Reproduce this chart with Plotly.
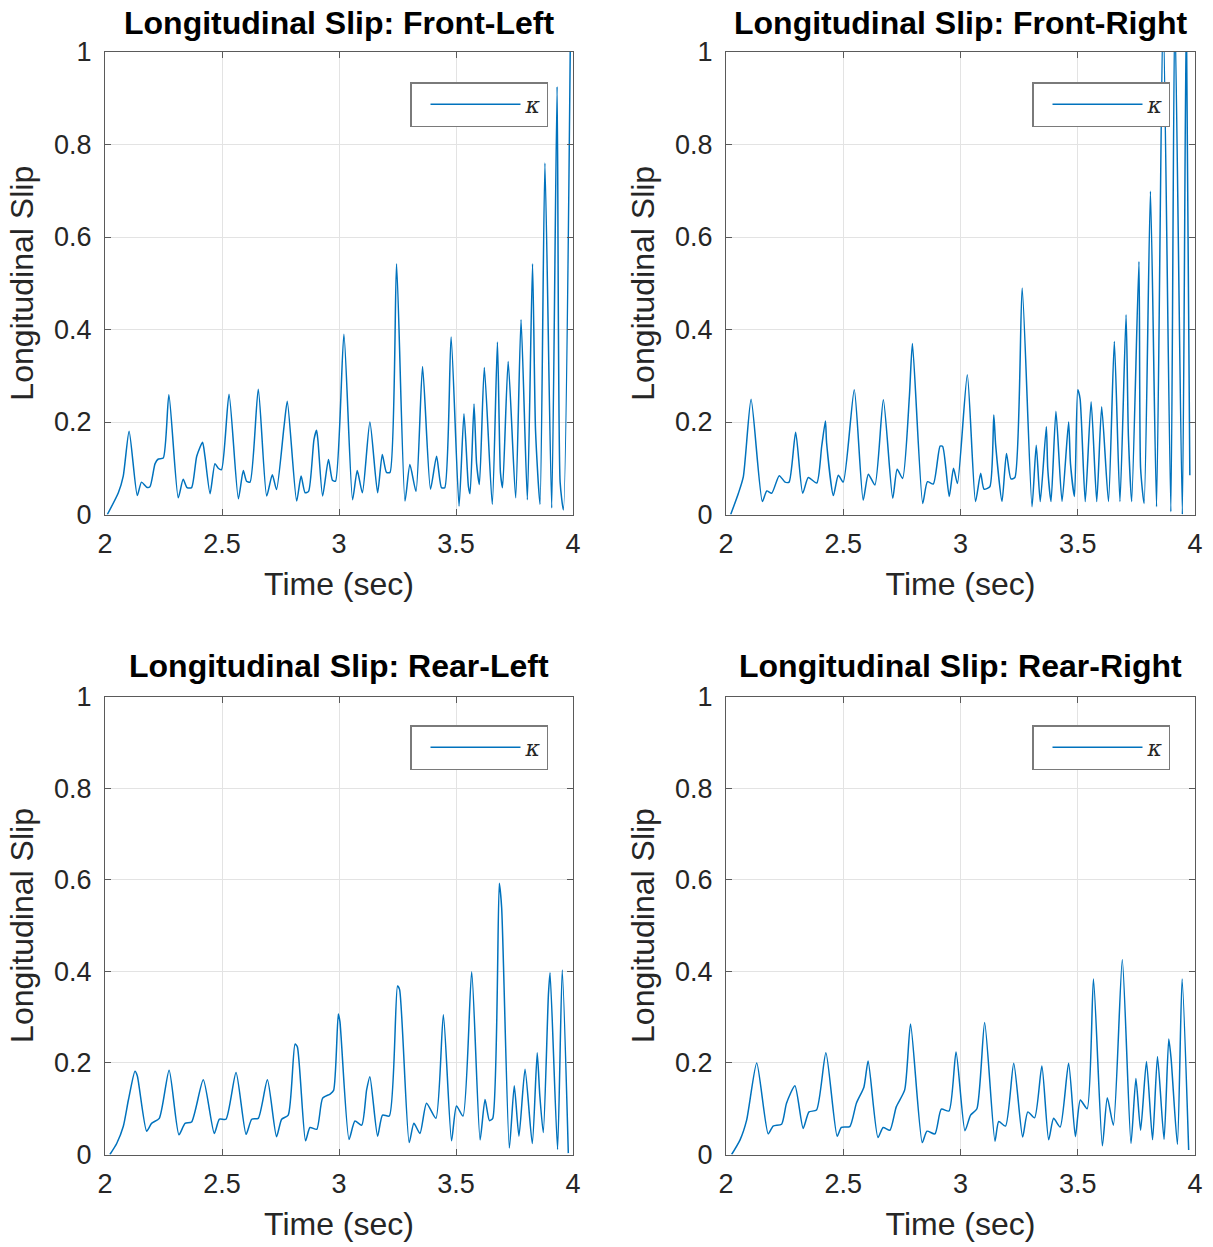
import plotly.graph_objects as go

# ---------------- data ----------------
t_fl = [2.01, 2.057, 2.078, 2.103, 2.138, 2.156, 2.178, 2.192, 2.214, 2.228,
        2.249, 2.273, 2.313, 2.334, 2.351, 2.37, 2.392, 2.417, 2.427, 2.449,
        2.47, 2.484, 2.498, 2.53, 2.57, 2.591, 2.605, 2.62, 2.655, 2.691,
        2.715, 2.733, 2.765, 2.779, 2.819, 2.838, 2.855, 2.87, 2.893, 2.904,
        2.91, 2.93, 2.955, 2.972, 2.985, 3.021, 3.058, 3.078, 3.1, 3.132,
        3.165, 3.185, 3.203, 3.218, 3.246, 3.282, 3.303, 3.329, 3.357, 3.391,
        3.417, 3.438, 3.452, 3.479, 3.513, 3.534, 3.553, 3.56, 3.577, 3.588,
        3.6, 3.621, 3.655, 3.677, 3.69, 3.699, 3.723, 3.755, 3.778, 3.805,
        3.827, 3.84, 3.859, 3.88, 3.909, 3.932, 3.945, 3.959, 3.99]
k_fl = [0.0, 0.047, 0.083, 0.18, 0.041, 0.07, 0.059, 0.06, 0.11, 0.12,
        0.122, 0.259, 0.036, 0.076, 0.058, 0.058, 0.126, 0.156, 0.126, 0.045,
        0.11, 0.1, 0.097, 0.26, 0.034, 0.095, 0.072, 0.07, 0.271, 0.04,
        0.086, 0.054, 0.19, 0.245, 0.029, 0.083, 0.047, 0.05, 0.162, 0.182,
        0.16, 0.04, 0.119, 0.074, 0.072, 0.39, 0.032, 0.095, 0.047, 0.2,
        0.047, 0.13, 0.091, 0.091, 0.542, 0.029, 0.108, 0.05, 0.32, 0.055,
        0.126, 0.058, 0.058, 0.384, 0.018, 0.218, 0.061, 0.045, 0.239, 0.11,
        0.065, 0.318, 0.022, 0.373, 0.09, 0.058, 0.331, 0.036, 0.421, 0.032,
        0.542, 0.18, 0.022, 0.76, 0.014, 0.925, 0.07, 0.01, 1.1]

t_fr = [2.02, 2.053, 2.074, 2.107, 2.155, 2.174, 2.195, 2.227, 2.252, 2.269,
        2.297, 2.327, 2.351, 2.387, 2.408, 2.424, 2.429, 2.458, 2.479, 2.5,
        2.547, 2.585, 2.607, 2.635, 2.671, 2.711, 2.73, 2.753, 2.782, 2.795,
        2.839, 2.859, 2.884, 2.913, 2.924, 2.952, 2.97, 2.987, 3.029, 3.064,
        3.086, 3.1, 3.125, 3.142, 3.15, 3.177, 3.196, 3.215, 3.232, 3.263,
        3.305, 3.323, 3.34, 3.366, 3.372, 3.386, 3.407, 3.433, 3.461, 3.469,
        3.486, 3.5, 3.51, 3.532, 3.557, 3.581, 3.602, 3.631, 3.656, 3.68,
        3.706, 3.716, 3.73, 3.761, 3.768, 3.783, 3.81, 3.836, 3.864, 3.897,
        3.914, 3.946, 3.963, 3.978]
k_fr = [0.0, 0.046, 0.082, 0.249, 0.028, 0.051, 0.046, 0.084, 0.07, 0.07,
        0.178, 0.046, 0.08, 0.068, 0.147, 0.202, 0.155, 0.041, 0.085, 0.07,
        0.27, 0.031, 0.087, 0.064, 0.248, 0.035, 0.098, 0.078, 0.255, 0.37,
        0.024, 0.071, 0.066, 0.148, 0.147, 0.039, 0.1, 0.067, 0.302, 0.028,
        0.089, 0.055, 0.06, 0.215, 0.15, 0.028, 0.132, 0.077, 0.08, 0.49,
        0.017, 0.15, 0.028, 0.19, 0.1, 0.028, 0.223, 0.028, 0.2, 0.11,
        0.039, 0.27, 0.25, 0.028, 0.244, 0.028, 0.233, 0.028, 0.374, 0.028,
        0.432, 0.17, 0.028, 0.547, 0.1, 0.024, 0.699, 0.017, 1.1, 0.006,
        1.1, 0.0, 1.1, 0.085]

t_rl = [2.021, 2.05, 2.078, 2.1, 2.128, 2.138, 2.178, 2.199, 2.232, 2.274,
        2.316, 2.342, 2.37, 2.42, 2.467, 2.489, 2.517, 2.56, 2.603, 2.627,
        2.655, 2.694, 2.733, 2.755, 2.783, 2.812, 2.822, 2.857, 2.876, 2.905,
        2.93, 2.962, 2.977, 2.997, 3.004, 3.043, 3.068, 3.097, 3.118, 3.132,
        3.165, 3.186, 3.215, 3.25, 3.259, 3.3, 3.32, 3.346, 3.374, 3.414,
        3.446, 3.481, 3.502, 3.53, 3.567, 3.603, 3.624, 3.643, 3.657, 3.685,
        3.695, 3.728, 3.749, 3.769, 3.795, 3.826, 3.847, 3.858, 3.873, 3.895,
        3.902, 3.934, 3.954, 3.98]
k_rl = [0.0, 0.024, 0.061, 0.119, 0.182, 0.172, 0.051, 0.068, 0.079, 0.184,
        0.043, 0.068, 0.071, 0.163, 0.046, 0.077, 0.077, 0.179, 0.044, 0.077,
        0.079, 0.163, 0.039, 0.077, 0.086, 0.241, 0.235, 0.03, 0.059, 0.055,
        0.123, 0.132, 0.14, 0.307, 0.29, 0.033, 0.073, 0.064, 0.141, 0.17,
        0.04, 0.086, 0.084, 0.368, 0.36, 0.026, 0.068, 0.046, 0.112, 0.079,
        0.305, 0.03, 0.106, 0.084, 0.399, 0.032, 0.12, 0.074, 0.079, 0.592,
        0.54, 0.014, 0.15, 0.04, 0.186, 0.024, 0.222, 0.13, 0.048, 0.35,
        0.397, 0.011, 0.403, 0.003]

t_rr = [2.024, 2.06, 2.088, 2.131, 2.18, 2.201, 2.237, 2.258, 2.294, 2.329,
        2.354, 2.386, 2.426, 2.474, 2.492, 2.528, 2.556, 2.588, 2.606, 2.648,
        2.67, 2.699, 2.726, 2.762, 2.787, 2.837, 2.857, 2.891, 2.918, 2.951,
        2.981, 3.019, 3.043, 3.07, 3.103, 3.147, 3.163, 3.192, 3.227, 3.265,
        3.287, 3.316, 3.347, 3.376, 3.397, 3.425, 3.461, 3.49, 3.511, 3.54,
        3.567, 3.605, 3.626, 3.652, 3.69, 3.727, 3.748, 3.768, 3.793, 3.819,
        3.84, 3.868, 3.888, 3.898, 3.925, 3.945, 3.973]
k_rr = [0.0, 0.032, 0.075, 0.2, 0.045, 0.062, 0.066, 0.112, 0.15, 0.057,
        0.093, 0.097, 0.222, 0.04, 0.059, 0.061, 0.112, 0.147, 0.204, 0.037,
        0.059, 0.053, 0.104, 0.141, 0.285, 0.026, 0.051, 0.045, 0.099, 0.095,
        0.224, 0.052, 0.086, 0.1, 0.288, 0.029, 0.072, 0.062, 0.199, 0.038,
        0.093, 0.08, 0.193, 0.032, 0.079, 0.06, 0.199, 0.039, 0.119, 0.1,
        0.383, 0.019, 0.124, 0.064, 0.426, 0.024, 0.166, 0.053, 0.203, 0.032,
        0.214, 0.033, 0.252, 0.21, 0.022, 0.383, 0.01]

titles = ["Longitudinal Slip: Front-Left", "Longitudinal Slip: Front-Right",
          "Longitudinal Slip: Rear-Left", "Longitudinal Slip: Rear-Right"]
series = [(t_fl, k_fl), (t_fr, k_fr), (t_rl, k_rl), (t_rr, k_rr)]

x_ticks = [2, 2.5, 3, 3.5, 4]
x_ticklabels = ["2", "2.5", "3", "3.5", "4"]
y_ticks = [0, 0.2, 0.4, 0.6, 0.8, 1]
y_ticklabels = ["0", "0.2", "0.4", "0.6", "0.8", "1"]
series_name = "<i>κ</i>"

# ---------------- layout geometry ----------------
W, H = 1213, 1247
LINE = "#0072BD"
AX = "#5a5a5a"
TXT = "#262626"
FONT = "Liberation Sans, Arial, Helvetica, sans-serif"

xdoms = [[105 / W, 573 / W], [726 / W, 1195 / W]]
ydoms = [[1 - 514.5 / H, 1 - 52 / H], [1 - 1154.5 / H, 1 - 696.5 / H]]
title_y = [1 - 23 / H, 1 - 666 / H]
legend_x = [548 / W, 1170 / W]
legend_y = [1 - 82 / H, 1 - 725 / H]

fig = go.Figure()
layout = dict(
    width=W, height=H,
    margin=dict(l=0, r=0, t=0, b=0, autoexpand=False),
    paper_bgcolor="white", plot_bgcolor="white",
    font=dict(family=FONT, color=TXT),
    annotations=[],
    showlegend=True,
)

for i, ((tt, kk), ttl) in enumerate(zip(series, titles)):
    r, c = divmod(i, 2)
    n = i + 1
    xa = "x" if n == 1 else f"x{n}"
    ya = "y" if n == 1 else f"y{n}"
    lg = "legend" if n == 1 else f"legend{n}"
    fig.add_trace(go.Scatter(
        x=tt, y=kk, mode="lines", name=series_name,
        line=dict(color=LINE, width=1.5, shape="spline", smoothing=0.6),
        xaxis=xa, yaxis=ya, legend=lg, showlegend=True,
    ))
    common = dict(
        showline=True, linecolor=AX, linewidth=1, mirror="ticks",
        ticks="inside", ticklen=6, tickcolor=AX,
        showgrid=True, gridcolor="#e3e3e3", gridwidth=1,
        zeroline=False, automargin=False,
        tickfont=dict(size=27, color=TXT, family=FONT),
    )
    layout["xaxis" if n == 1 else f"xaxis{n}"] = dict(
        common, domain=xdoms[c], range=[2, 4],
        tickvals=x_ticks, ticktext=x_ticklabels,
        anchor=ya, ticklabelstandoff=5,
        title=dict(text="Time (sec)", font=dict(size=32, color=TXT, family=FONT), standoff=14),
    )
    layout["yaxis" if n == 1 else f"yaxis{n}"] = dict(
        common, domain=ydoms[r], range=[0, 1],
        tickvals=y_ticks, ticktext=y_ticklabels,
        anchor=xa, ticklabelstandoff=7,
        title=dict(text="Longitudinal Slip", font=dict(size=32, color=TXT, family=FONT), standoff=10),
    )
    layout[lg] = dict(
        x=legend_x[c], y=legend_y[r], xanchor="right", yanchor="top",
        bgcolor="white", bordercolor="#7a7a7a", borderwidth=1.5,
        font=dict(size=22, color=TXT, family="DejaVu Serif, serif"),
        itemwidth=90, indentation=14,
    )
    layout["annotations"].append(dict(
        text=f"<b>{ttl}</b>", x=(xdoms[c][0] + xdoms[c][1]) / 2, y=title_y[r],
        xref="paper", yref="paper", xanchor="center", yanchor="middle",
        showarrow=False, font=dict(size=32, color="black", family=FONT),
    ))

fig.update_layout(**layout)
fig.write_html("out.html")
